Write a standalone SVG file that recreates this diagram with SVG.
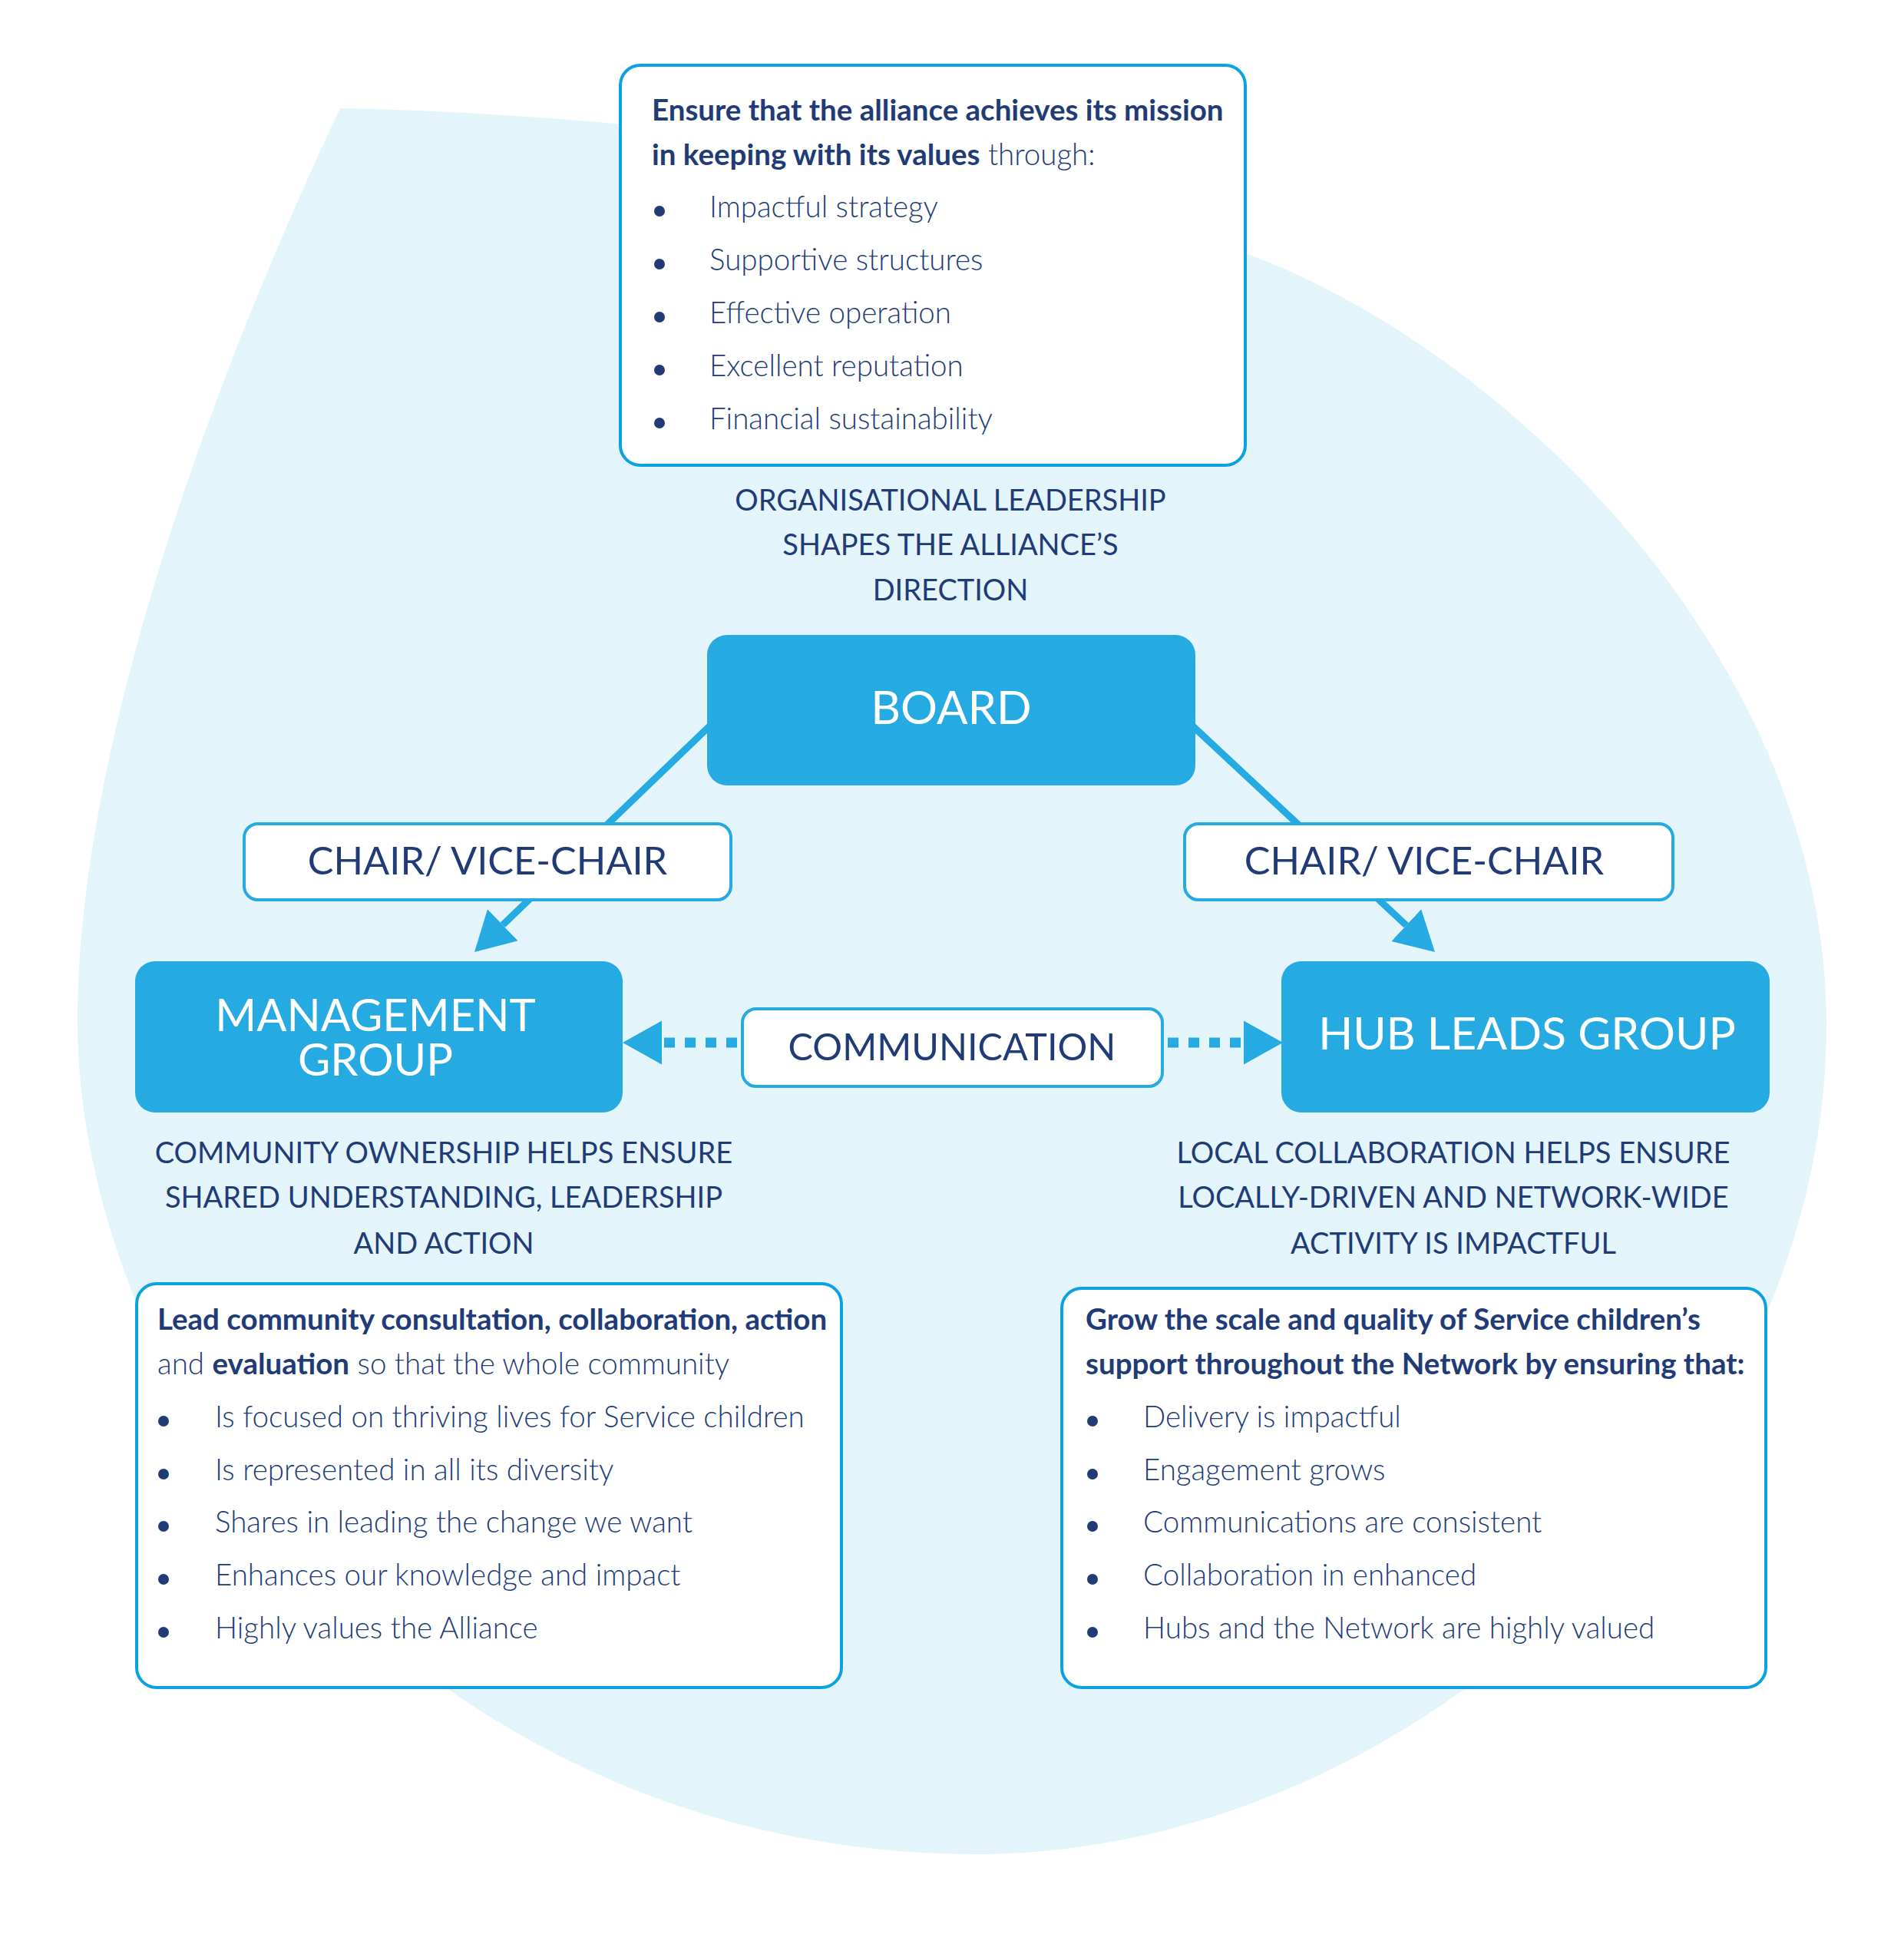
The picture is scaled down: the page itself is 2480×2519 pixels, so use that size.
<svg xmlns="http://www.w3.org/2000/svg" width="2480" height="2519" viewBox="0 0 2480 2519">
<defs>
<style>
text{font-family:Lato,"Noto Sans","Liberation Sans",sans-serif;fill:#213b76}
.body{font-size:38.5px;font-weight:300}
.b{font-weight:700}
.cap{font-size:38px;font-weight:400;text-anchor:middle}
.lbl{font-size:50.5px;font-weight:400;text-anchor:middle}
.lbl2{font-size:48.5px;font-weight:400;text-anchor:middle}
.node text{fill:#ffffff;font-size:59px;font-weight:400;text-anchor:middle}
.card{fill:#ffffff;stroke:#0ba2e2;stroke-width:4}
.tag{fill:#ffffff;stroke:#26aae1;stroke-width:4}
.fill{fill:#25aae1}
.dot{fill:#213b76}
.solid{stroke:#25aae1;stroke-width:9;fill:none}
.dash{stroke:#25aae1;stroke-width:13;fill:none;stroke-dasharray:14 13}
</style>
<marker id="ah" markerUnits="userSpaceOnUse" markerWidth="52" markerHeight="58" refX="0" refY="28.5" orient="auto" viewBox="0 0 52 58">
<path d="M0,0 L51,28.5 L0,57 Z" fill="#25aae1"/>
</marker>
</defs>
<rect width="2480" height="2519" fill="#ffffff"/>
<path id="blob" d="M443,141 C 800,148 1300,200 1625,331 C 1950,450 2379,850 2379,1335 C 2379,1900 1850,2415 1269,2415 C 900,2415 560,2250 330,1960 C 160,1740 100,1500 101,1325 C 102,1000 250,550 443,141 Z" fill="#e3f4fb"/>

<g id="connectors">
<path class="solid" d="M940.3,930.3 L654.8,1204.7" marker-end="url(#ah)"/>
<path class="solid" d="M1539.3,932.4 L1831.7,1205.2" marker-end="url(#ah)"/>
<path class="dash" d="M960,1358 L862,1358" marker-end="url(#ah)"/>
<path class="dash" d="M1521,1358 L1620,1358" marker-end="url(#ah)"/>
</g>

<g id="mission-box">
<rect class="card" x="808" y="85" width="814" height="521" rx="26"/>
<text class="body" x="849" y="157"><tspan class="b">Ensure that the alliance achieves its mission</tspan></text>
<text class="body" x="849" y="215"><tspan class="b">in keeping with its values</tspan> through:</text>
<circle class="dot" cx="859" cy="275" r="7"/><text class="body" x="924" y="283">Impactful strategy</text>
<circle class="dot" cx="859" cy="344" r="7"/><text class="body" x="924" y="352">Supportive structures</text>
<circle class="dot" cx="859" cy="413" r="7"/><text class="body" x="924" y="421">Effective operation</text>
<circle class="dot" cx="859" cy="482" r="7"/><text class="body" x="924" y="490">Excellent reputation</text>
<circle class="dot" cx="859" cy="551" r="7"/><text class="body" x="924" y="559">Financial sustainability</text>
</g>

<g id="board-caption">
<text class="cap" x="1238" y="665">ORGANISATIONAL LEADERSHIP</text>
<text class="cap" x="1238" y="723">SHAPES THE ALLIANCE’S</text>
<text class="cap" x="1238" y="782">DIRECTION</text>
</g>

<g id="board" class="node">
<rect class="fill" x="921" y="827" width="636" height="196" rx="26"/>
<text x="1239" y="943" style="font-size:60px">BOARD</text>
</g>

<g id="chair-left">
<rect class="tag" x="318" y="1073" width="634" height="99" rx="18"/>
<text class="lbl" x="635" y="1139">CHAIR/ VICE-CHAIR</text>
</g>

<g id="chair-right">
<rect class="tag" x="1543" y="1073" width="636" height="99" rx="18"/>
<text class="lbl" x="1855" y="1139">CHAIR/ VICE-CHAIR</text>
</g>

<g id="management-group" class="node">
<rect class="fill" x="176" y="1252" width="635" height="197" rx="26"/>
<text x="489" y="1343" style="font-size:58px">MANAGEMENT</text>
<text x="489" y="1401" style="font-size:58px">GROUP</text>
</g>

<g id="communication">
<rect class="tag" x="967" y="1314" width="547" height="101" rx="18"/>
<text class="lbl2" x="1240" y="1381">COMMUNICATION</text>
</g>

<g id="hub-leads-group" class="node">
<rect class="fill" x="1669" y="1252" width="636" height="197" rx="26"/>
<text x="1989" y="1367">HUB LEADS GROUP</text>
</g>

<g id="management-caption">
<text class="cap" x="578" y="1515">COMMUNITY OWNERSHIP HELPS ENSURE</text>
<text class="cap" x="578" y="1573">SHARED UNDERSTANDING, LEADERSHIP</text>
<text class="cap" x="578" y="1633">AND ACTION</text>
</g>

<g id="hub-caption">
<text class="cap" x="1893" y="1515">LOCAL COLLABORATION HELPS ENSURE</text>
<text class="cap" x="1893" y="1573">LOCALLY-DRIVEN AND NETWORK-WIDE</text>
<text class="cap" x="1893" y="1633">ACTIVITY IS IMPACTFUL</text>
</g>

<g id="community-box">
<rect class="card" x="178" y="1672" width="918" height="526" rx="26"/>
<text class="body" x="205" y="1732"><tspan class="b">Lead community consultation, collaboration, action</tspan></text>
<text class="body" x="205" y="1790">and <tspan class="b">evaluation</tspan> so that the whole community</text>
<circle class="dot" cx="213" cy="1851" r="7"/><text class="body" x="280" y="1859">Is focused on thriving lives for Service children</text>
<circle class="dot" cx="213" cy="1920" r="7"/><text class="body" x="280" y="1928">Is represented in all its diversity</text>
<circle class="dot" cx="213" cy="1988" r="7"/><text class="body" x="280" y="1996">Shares in leading the change we want</text>
<circle class="dot" cx="213" cy="2057" r="7"/><text class="body" x="280" y="2065">Enhances our knowledge and impact</text>
<circle class="dot" cx="213" cy="2126" r="7"/><text class="body" x="280" y="2134">Highly values the Alliance</text>
</g>

<g id="network-box">
<rect class="card" x="1383" y="1678" width="917" height="520" rx="26"/>
<text class="body" x="1414" y="1732"><tspan class="b">Grow the scale and quality of Service children’s</tspan></text>
<text class="body" x="1414" y="1790"><tspan class="b">support throughout the Network by ensuring that:</tspan></text>
<circle class="dot" cx="1423" cy="1851" r="7"/><text class="body" x="1489" y="1859">Delivery is impactful</text>
<circle class="dot" cx="1423" cy="1920" r="7"/><text class="body" x="1489" y="1928">Engagement grows</text>
<circle class="dot" cx="1423" cy="1988" r="7"/><text class="body" x="1489" y="1996">Communications are consistent</text>
<circle class="dot" cx="1423" cy="2057" r="7"/><text class="body" x="1489" y="2065">Collaboration in enhanced</text>
<circle class="dot" cx="1423" cy="2126" r="7"/><text class="body" x="1489" y="2134">Hubs and the Network are highly valued</text>
</g>
</svg>
